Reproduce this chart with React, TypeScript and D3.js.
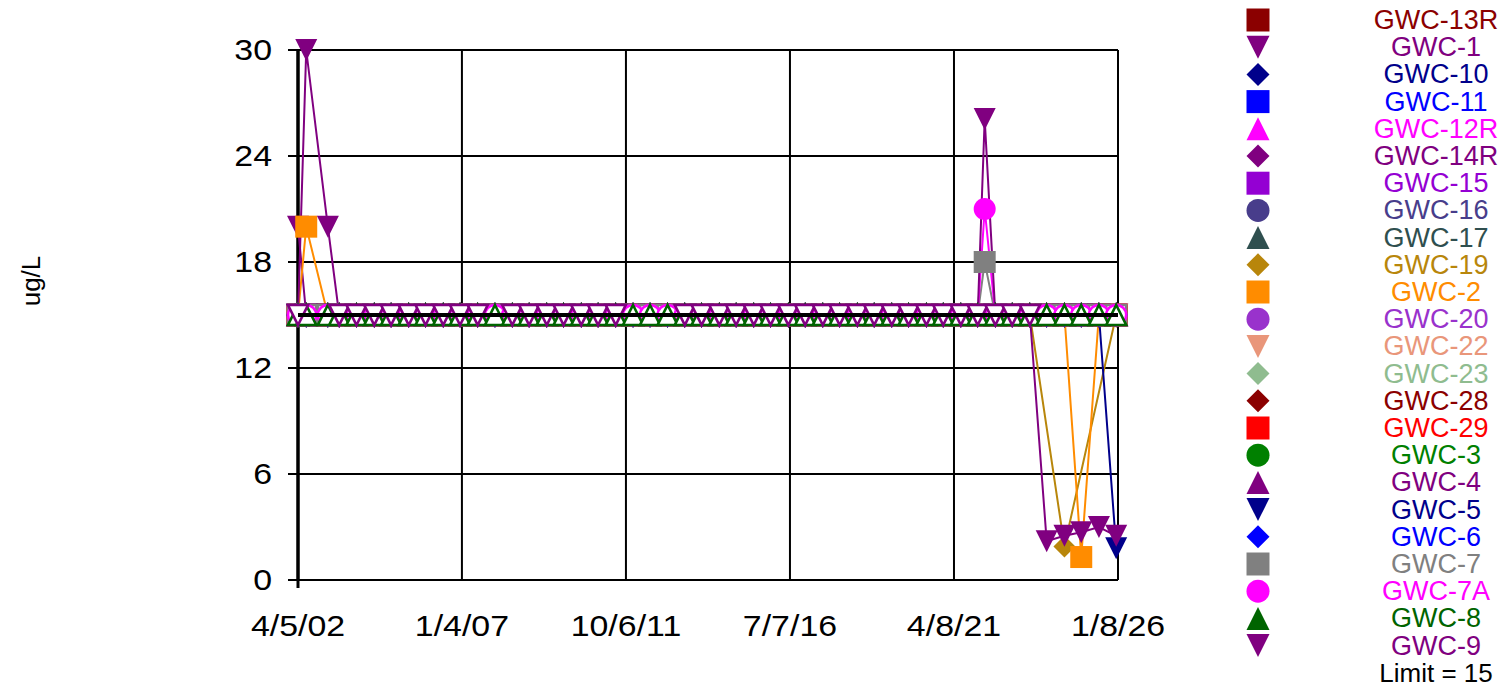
import React from "react";
import * as d3 from "d3";

// ---------- DATA ----------
const wellNames = [
  "GWC-13R", "GWC-1", "GWC-10", "GWC-11", "GWC-12R", "GWC-14R", "GWC-15", "GWC-16",
  "GWC-17", "GWC-19", "GWC-2", "GWC-20", "GWC-22", "GWC-23", "GWC-28", "GWC-29",
  "GWC-3", "GWC-4", "GWC-5", "GWC-6", "GWC-7", "GWC-7A", "GWC-8", "GWC-9",
];
const wellColors = [
  "#8B0000", "#800080", "#00008B", "#0000FF", "#FF00FF", "#800080", "#9400D3", "#483D8B",
  "#2F4F4F", "#B8860B", "#FF8C00", "#9932CC", "#E9967A", "#8FBC8F", "#8B0000", "#FF0000",
  "#008000", "#800080", "#00008B", "#0000FF", "#808080", "#FF00FF", "#006400", "#800080",
];
const wellShapes = [
  "square", "down", "diamond", "square", "up", "diamond", "square", "circle",
  "up", "diamond", "square", "circle", "down", "diamond", "diamond", "square",
  "circle", "up", "down", "diamond", "square", "circle", "up", "down",
];

// routine sampling events (all wells)
const sampleDates = [
  "2002-04-05", "2002-07-01", "2003-02-15", "2003-06-15", "2003-12-15",
  "2004-06-20", "2004-12-15", "2005-06-20", "2005-12-15", "2006-06-20", "2006-12-15",
  "2007-06-20", "2007-12-20", "2008-06-20", "2008-12-15", "2009-06-20", "2009-12-15",
  "2010-06-20", "2010-12-15", "2011-06-20", "2011-12-20", "2012-06-17", "2012-12-20",
  "2013-06-20", "2013-12-15", "2014-06-20", "2014-12-15", "2015-06-20", "2015-12-15",
  "2016-06-20", "2016-12-15", "2017-06-20", "2017-12-15", "2018-06-20", "2018-12-15",
  "2019-06-20", "2019-12-15", "2020-06-20", "2020-12-15", "2021-06-20", "2021-12-15",
  "2022-06-20", "2022-12-15", "2023-06-20", "2023-12-15", "2024-06-20", "2024-12-15",
  "2025-06-20", "2025-12-20",
];

// extra resampling event
const resampleDate = "2022-02-27";
const resampledWells = ["GWC-7", "GWC-7A", "GWC-9"];

// non-detects are plotted at the reporting limit
const reportingLimit = 15;
const limitValue = 15;

// detected results [well, date, ug/L]
const detections: [string, string, number][] = [
  ["GWC-1", "2002-04-05", 20],
  ["GWC-9", "2002-07-01", 30],
  ["GWC-9", "2003-02-15", 20],
  ["GWC-2", "2002-07-01", 20],
  ["GWC-9", "2022-02-27", 26.1],
  ["GWC-7A", "2022-02-27", 21],
  ["GWC-7", "2022-02-27", 18],
  ["GWC-9", "2023-12-15", 2.2],
  ["GWC-9", "2024-06-20", 2.5],
  ["GWC-9", "2024-12-15", 2.7],
  ["GWC-9", "2025-06-20", 3.0],
  ["GWC-9", "2025-12-20", 2.5],
  ["GWC-19", "2024-06-20", 1.9],
  ["GWC-2", "2024-12-15", 1.3],
  ["GWC-5", "2025-12-20", 1.8],
];

// samples not collected [well, date]
const notSampled: [string, string][] = [
  ["GWC-9", "2007-12-20"],
  ["GWC-9", "2011-12-20"],
  ["GWC-9", "2012-06-17"],
  ["GWC-9", "2012-12-20"],
  ["GWC-19", "2023-12-15"],
  ["GWC-19", "2024-12-15"],
  ["GWC-19", "2025-06-20"],
];

const yTicks = [0, 6, 12, 18, 24, 30];
const xTickDates = ["2002-04-05", "2007-01-04", "2011-10-06", "2016-07-07", "2021-04-08", "2026-01-08"];
const xTickLabels = ["4/5/02", "1/4/07", "10/6/11", "7/7/16", "4/8/21", "1/8/26"];
const yLabel = "ug/L";
const limitLabel = "Limit = 15";

// ---------- CHART ----------
const parse = d3.timeParse("%Y-%m-%d");
const FONT = "'Liberation Sans', Arial, sans-serif";

type Pt = { date: Date; value: number; nd: boolean };

function buildSeries(well: string): Pt[] {
  const dates = [...sampleDates];
  if (resampledWells.includes(well)) dates.push(resampleDate);
  const pts: Pt[] = [];
  for (const ds of dates) {
    if (notSampled.some(([w, d]) => w === well && d === ds)) continue;
    const det = detections.find(([w, d]) => w === well && d === ds);
    pts.push({
      date: parse(ds)!,
      value: det ? det[2] : reportingLimit,
      nd: !det,
    });
  }
  pts.sort((a, b) => +a.date - +b.date);
  return pts;
}

function shapePath(shape: string, cx: number, cy: number, s: number): string {
  const h = s / 2;
  switch (shape) {
    case "square":
      return `M${cx - h},${cy - h}h${s}v${s}h${-s}Z`;
    case "diamond":
      return `M${cx},${cy - h}L${cx + h},${cy}L${cx},${cy + h}L${cx - h},${cy}Z`;
    case "up":
      return `M${cx},${cy - h}L${cx + h},${cy + h}L${cx - h},${cy + h}Z`;
    case "down":
      return `M${cx - h},${cy - h}L${cx + h},${cy - h}L${cx},${cy + h}Z`;
    default:
      return "";
  }
}

function Marker({ shape, cx, cy, s, color, hollow }: any) {
  const fill = hollow ? "#ffffff" : color;
  const stroke = color;
  const sw = hollow ? 2.6 : 0;
  if (shape === "circle") {
    return <circle cx={cx} cy={cy} r={s / 2} fill={fill} stroke={stroke} strokeWidth={sw} />;
  }
  return <path d={shapePath(shape, cx, cy, s)} fill={fill} stroke={stroke} strokeWidth={sw} />;
}

export default function App() {
  const W = 1506;
  const H = 686;
  const left = 298;
  const right = 1118;
  const top = 50;
  const bottom = 580;

  const x = d3
    .scaleTime()
    .domain([parse(xTickDates[0])!, parse(xTickDates[xTickDates.length - 1])!])
    .range([left, right]);
  const y = d3.scaleLinear().domain([0, 30]).range([bottom, top]);

  const series = wellNames.map((w) => buildSeries(w));
  const line = d3
    .line<Pt>()
    .x((d) => x(d.date))
    .y((d) => y(d.value));

  const legendX = 1258;
  const legendTextX = 1436;
  const legendY0 = 20;
  const legendStep = 27.2;
  const tickStretch = 1.13;

  return (
    <svg
      width={W}
      height={H}
      style={{ position: "absolute", left: 0, top: 0, display: "block", background: "#fff" }}
      fontFamily={FONT}
    >
      {/* horizontal gridlines */}
      {yTicks.map((t) => (
        <line key={"h" + t} x1={left - 10} x2={right} y1={y(t)} y2={y(t)} stroke="#000" strokeWidth={2} />
      ))}
      {/* vertical gridlines */}
      {xTickDates.map((d, i) => (
        <line
          key={"v" + d}
          x1={x(parse(d)!)}
          x2={x(parse(d)!)}
          y1={top}
          y2={bottom}
          stroke="#000"
          strokeWidth={i === 0 ? 3 : 2}
        />
      ))}
      <line x1={left} x2={left} y1={top} y2={bottom + 8} stroke="#000" strokeWidth={3} />

      {/* y tick labels */}
      {yTicks.map((t) => (
        <text
          key={"yl" + t}
          transform={`translate(272,${y(t)}) scale(${tickStretch},1)`}
          textAnchor="end"
          dominantBaseline="central"
          fontSize={30}
          fill="#000"
        >
          {t}
        </text>
      ))}
      {/* x tick labels */}
      {xTickDates.map((d, i) => (
        <text
          key={"xl" + d}
          transform={`translate(${x(parse(d)!)},636) scale(${tickStretch},1)`}
          textAnchor="middle"
          fontSize={30}
          fill="#000"
        >
          {xTickLabels[i]}
        </text>
      ))}
      <text
        transform={`translate(31,281) rotate(-90)`}
        textAnchor="middle"
        dominantBaseline="central"
        fontSize={26}
        fill="#000"
      >
        {yLabel}
      </text>

      {/* series lines */}
      {series.map((pts, i) => (
        <path key={"ln" + i} d={line(pts) || ""} fill="none" stroke={wellColors[i]} strokeWidth={2} />
      ))}
      {/* markers */}
      {series.map((pts, i) => (
        <g key={"mk" + i}>
          {pts.map((p, j) => (
            <Marker
              key={j}
              shape={wellShapes[i]}
              cx={x(p.date)}
              cy={y(p.value)}
              s={p.nd ? 20 : 22}
              color={wellColors[i]}
              hollow={p.nd}
            />
          ))}
        </g>
      ))}

      {/* limit line */}
      <line x1={left} x2={right} y1={y(limitValue)} y2={y(limitValue)} stroke="#000" strokeWidth={4} />

      {/* legend */}
      {wellNames.map((w, i) => {
        const cy = legendY0 + i * legendStep;
        return (
          <g key={"lg" + w}>
            <Marker shape={wellShapes[i]} cx={legendX} cy={cy} s={23} color={wellColors[i]} hollow={false} />
            <text
              x={legendTextX}
              y={cy}
              textAnchor="middle"
              dominantBaseline="central"
              fontSize={27}
              fill={wellColors[i]}
            >
              {w}
            </text>
          </g>
        );
      })}
      <text
        x={legendTextX}
        y={legendY0 + wellNames.length * legendStep}
        textAnchor="middle"
        dominantBaseline="central"
        fontSize={26}
        fill="#000"
      >
        {limitLabel}
      </text>
    </svg>
  );
}
